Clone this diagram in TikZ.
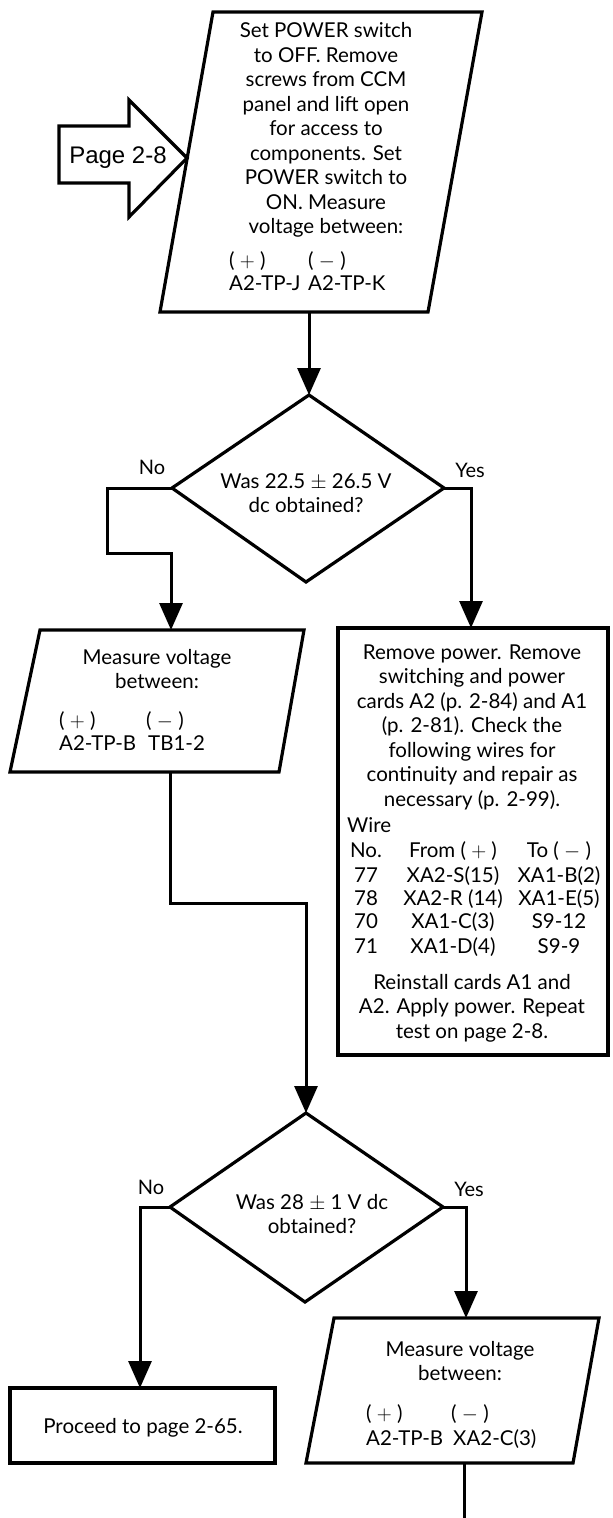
\documentclass[tikz,border=0pt]{standalone}
\usepackage{fontspec}
\setmainfont{Lato}
\newfontfamily\arialfont{Liberation Sans}
\usetikzlibrary{arrows.meta}
\begin{document}
\begin{tikzpicture}[x=1pt,y=-1pt,
  outline/.style={line width=3.2pt, line join=miter},
  conn/.style={line width=3pt, line join=miter},
  arr/.style={conn,-{Triangle[length=27pt,width=23pt]}},
  txt/.style={font=\fontsize{20.5}{24.5}\selectfont, inner sep=0pt, align=center},
  one/.style={txt, text height=15pt, text depth=5pt},
  lbl/.style={font=\fontsize{20}{24}\selectfont, inner sep=0pt, text height=15pt, text depth=5pt},
]
\useasboundingbox (0,0) rectangle (613,1518);

% ---- entry arrow "Page 2-8"
\coordinate (pgtip) at (187,158);
\draw[outline] (59,126) -- (129,126) -- (129,100) -- (pgtip) -- (129,217) -- (129,183) -- (59,183) -- cycle;
\node[font=\arialfont\fontsize{24}{28}\selectfont, inner sep=0pt] (pg) at (118,158) {Page 2-8};

% ---- box 1 (parallelogram)
\coordinate (p1a) at (213,12);
\coordinate (p1b) at (482,12);
\coordinate (p1c) at (428,312);
\coordinate (p1d) at (160,312);
\draw[outline] (p1a) -- (p1b) -- (p1c) -- (p1d) -- cycle;
\node[txt] (t1) at (326,130) {Set POWER switch\\to OFF. Remove\\screws from CCM\\panel and lift open\\for access to\\components. Set\\POWER switch to\\ON. Measure\\voltage between:};
\node[one, anchor=west] (t1p) at (229,262) {( $+$ )};
\node[one, anchor=west] (t1m) at (308,262) {( $-$ )};
\node[one, anchor=west] (t1j) at (229,285) {A2-TP-J};
\node[one, anchor=west] (t1k) at (308,285) {A2-TP-K};

% ---- decision 1
\coordinate (d1t) at (309,395);
\coordinate (d1r) at (444,488);
\coordinate (d1b) at (306,582);
\coordinate (d1l) at (172,488);
\draw[outline] (d1t) -- (d1r) -- (d1b) -- (d1l) -- cycle;
\node[txt] (q1) at (306,493) {Was 22.5 $\pm$ 26.5 V\\dc obtained?};
\coordinate (p1out) at (309,312);
\draw[arr] (p1out) -- (d1t);
\node[lbl] (no1) at (152,469) {No};
\node[lbl] (yes1) at (470,472) {Yes};

% ---- box 2 (parallelogram)
\coordinate (p2a) at (40,630);
\coordinate (p2b) at (304,630);
\coordinate (p2c) at (279,772);
\coordinate (p2d) at (10,772);
\draw[outline] (p2a) -- (p2b) -- (p2c) -- (p2d) -- cycle;
\node[txt] (t2) at (157,669) {Measure voltage\\between:};
\node[one, anchor=west] (t2p) at (59,722) {( $+$ )};
\node[one, anchor=west] (t2m) at (146,722) {( $-$ )};
\node[one, anchor=west] (t2b) at (59,745) {A2-TP-B};
\node[one, anchor=west] (t2t) at (148,745) {TB1-2};

\coordinate (n1a) at (107,488);
\coordinate (n1b) at (107,553);
\coordinate (n1c) at (171,553);
\coordinate (p2in) at (171,630);
\draw[arr] (d1l) -- (n1a) -- (n1b) -- (n1c) -- (p2in);

% ---- box 3 (rectangle)
\coordinate (r3a) at (338,628);
\coordinate (r3c) at (608,1055);
\draw[outline] (r3a) rectangle (r3c);
\coordinate (y1a) at (471,488);
\coordinate (r3in) at (471,628);
\draw[arr] (d1r) -- (y1a) -- (r3in);
\node[txt] (t3) at (472,727) {Remove power. Remove\\switching and power\\cards A2 (p. 2-84) and A1\\(p. 2-81). Check the\\following wires for\\continuity and repair as\\necessary (p. 2-99).};
\node[one, anchor=west] (wire) at (347,827) {Wire};
\foreach \a/\b/\c/\y [count=\i] in {No./From ( $+$ )/To ( $-$ )/852, 77/XA2-S(15)/XA1-B(2)/877, 78/XA2-R (14)/XA1-E(5)/900, 70/XA1-C(3)/S9-12/923, 71/XA1-D(4)/S9-9/948}{
  \node[one] (ca\i) at (366,\y) {\a};
  \node[one] (cb\i) at (453,\y) {\b};
  \node[one] (cc\i) at (559,\y) {\c};
}
\node[txt] (t3b) at (472,1008) {Reinstall cards A1 and\\A2. Apply power. Repeat\\test on page 2-8.};

% ---- connector box 2 -> decision 2
\coordinate (p2out) at (170,772);
\coordinate (s1) at (170,903);
\coordinate (s2) at (306,903);
\coordinate (d2t) at (306,1113);
\draw[arr] (p2out) -- (s1) -- (s2) -- (d2t);

% ---- decision 2
\coordinate (d2r) at (443,1207);
\coordinate (d2b) at (305,1302);
\coordinate (d2l) at (170,1207);
\draw[outline] (d2t) -- (d2r) -- (d2b) -- (d2l) -- cycle;
\node[txt] (q2) at (312,1214) {Was 28 $\pm$ 1 V dc\\obtained?};
\node[lbl] (no2) at (151,1189) {No};
\node[lbl] (yes2) at (469,1191) {Yes};

% ---- box 4 (rectangle)
\coordinate (r4a) at (10,1388);
\coordinate (r4c) at (275,1463);
\draw[outline] (r4a) rectangle (r4c);
\node[one] (t4) at (143,1428) {Proceed to page 2-65.};
\coordinate (n2a) at (140,1207);
\coordinate (r4in) at (140,1388);
\draw[arr] (d2l) -- (n2a) -- (r4in);

% ---- box 5 (parallelogram)
\coordinate (p5a) at (334,1318);
\coordinate (p5b) at (599,1318);
\coordinate (p5c) at (573,1463);
\coordinate (p5d) at (306,1463);
\draw[outline] (p5a) -- (p5b) -- (p5c) -- (p5d) -- cycle;
\coordinate (y2a) at (466,1207);
\coordinate (p5in) at (466,1318);
\draw[arr] (d2r) -- (y2a) -- (p5in);
\node[txt] (t5) at (460,1361) {Measure voltage\\between:};
\node[one, anchor=west] (t5p) at (366,1415) {( $+$ )};
\node[one, anchor=west] (t5m) at (451,1415) {( $-$ )};
\node[one, anchor=west] (t5b) at (366,1440) {A2-TP-B};
\node[one, anchor=west] (t5x) at (453,1440) {XA2-C(3)};

% ---- exit line
\coordinate (p5out) at (464,1463);
\coordinate (exit) at (464,1518);
\draw[conn] (p5out) -- (exit);
\end{tikzpicture}
\end{document}
